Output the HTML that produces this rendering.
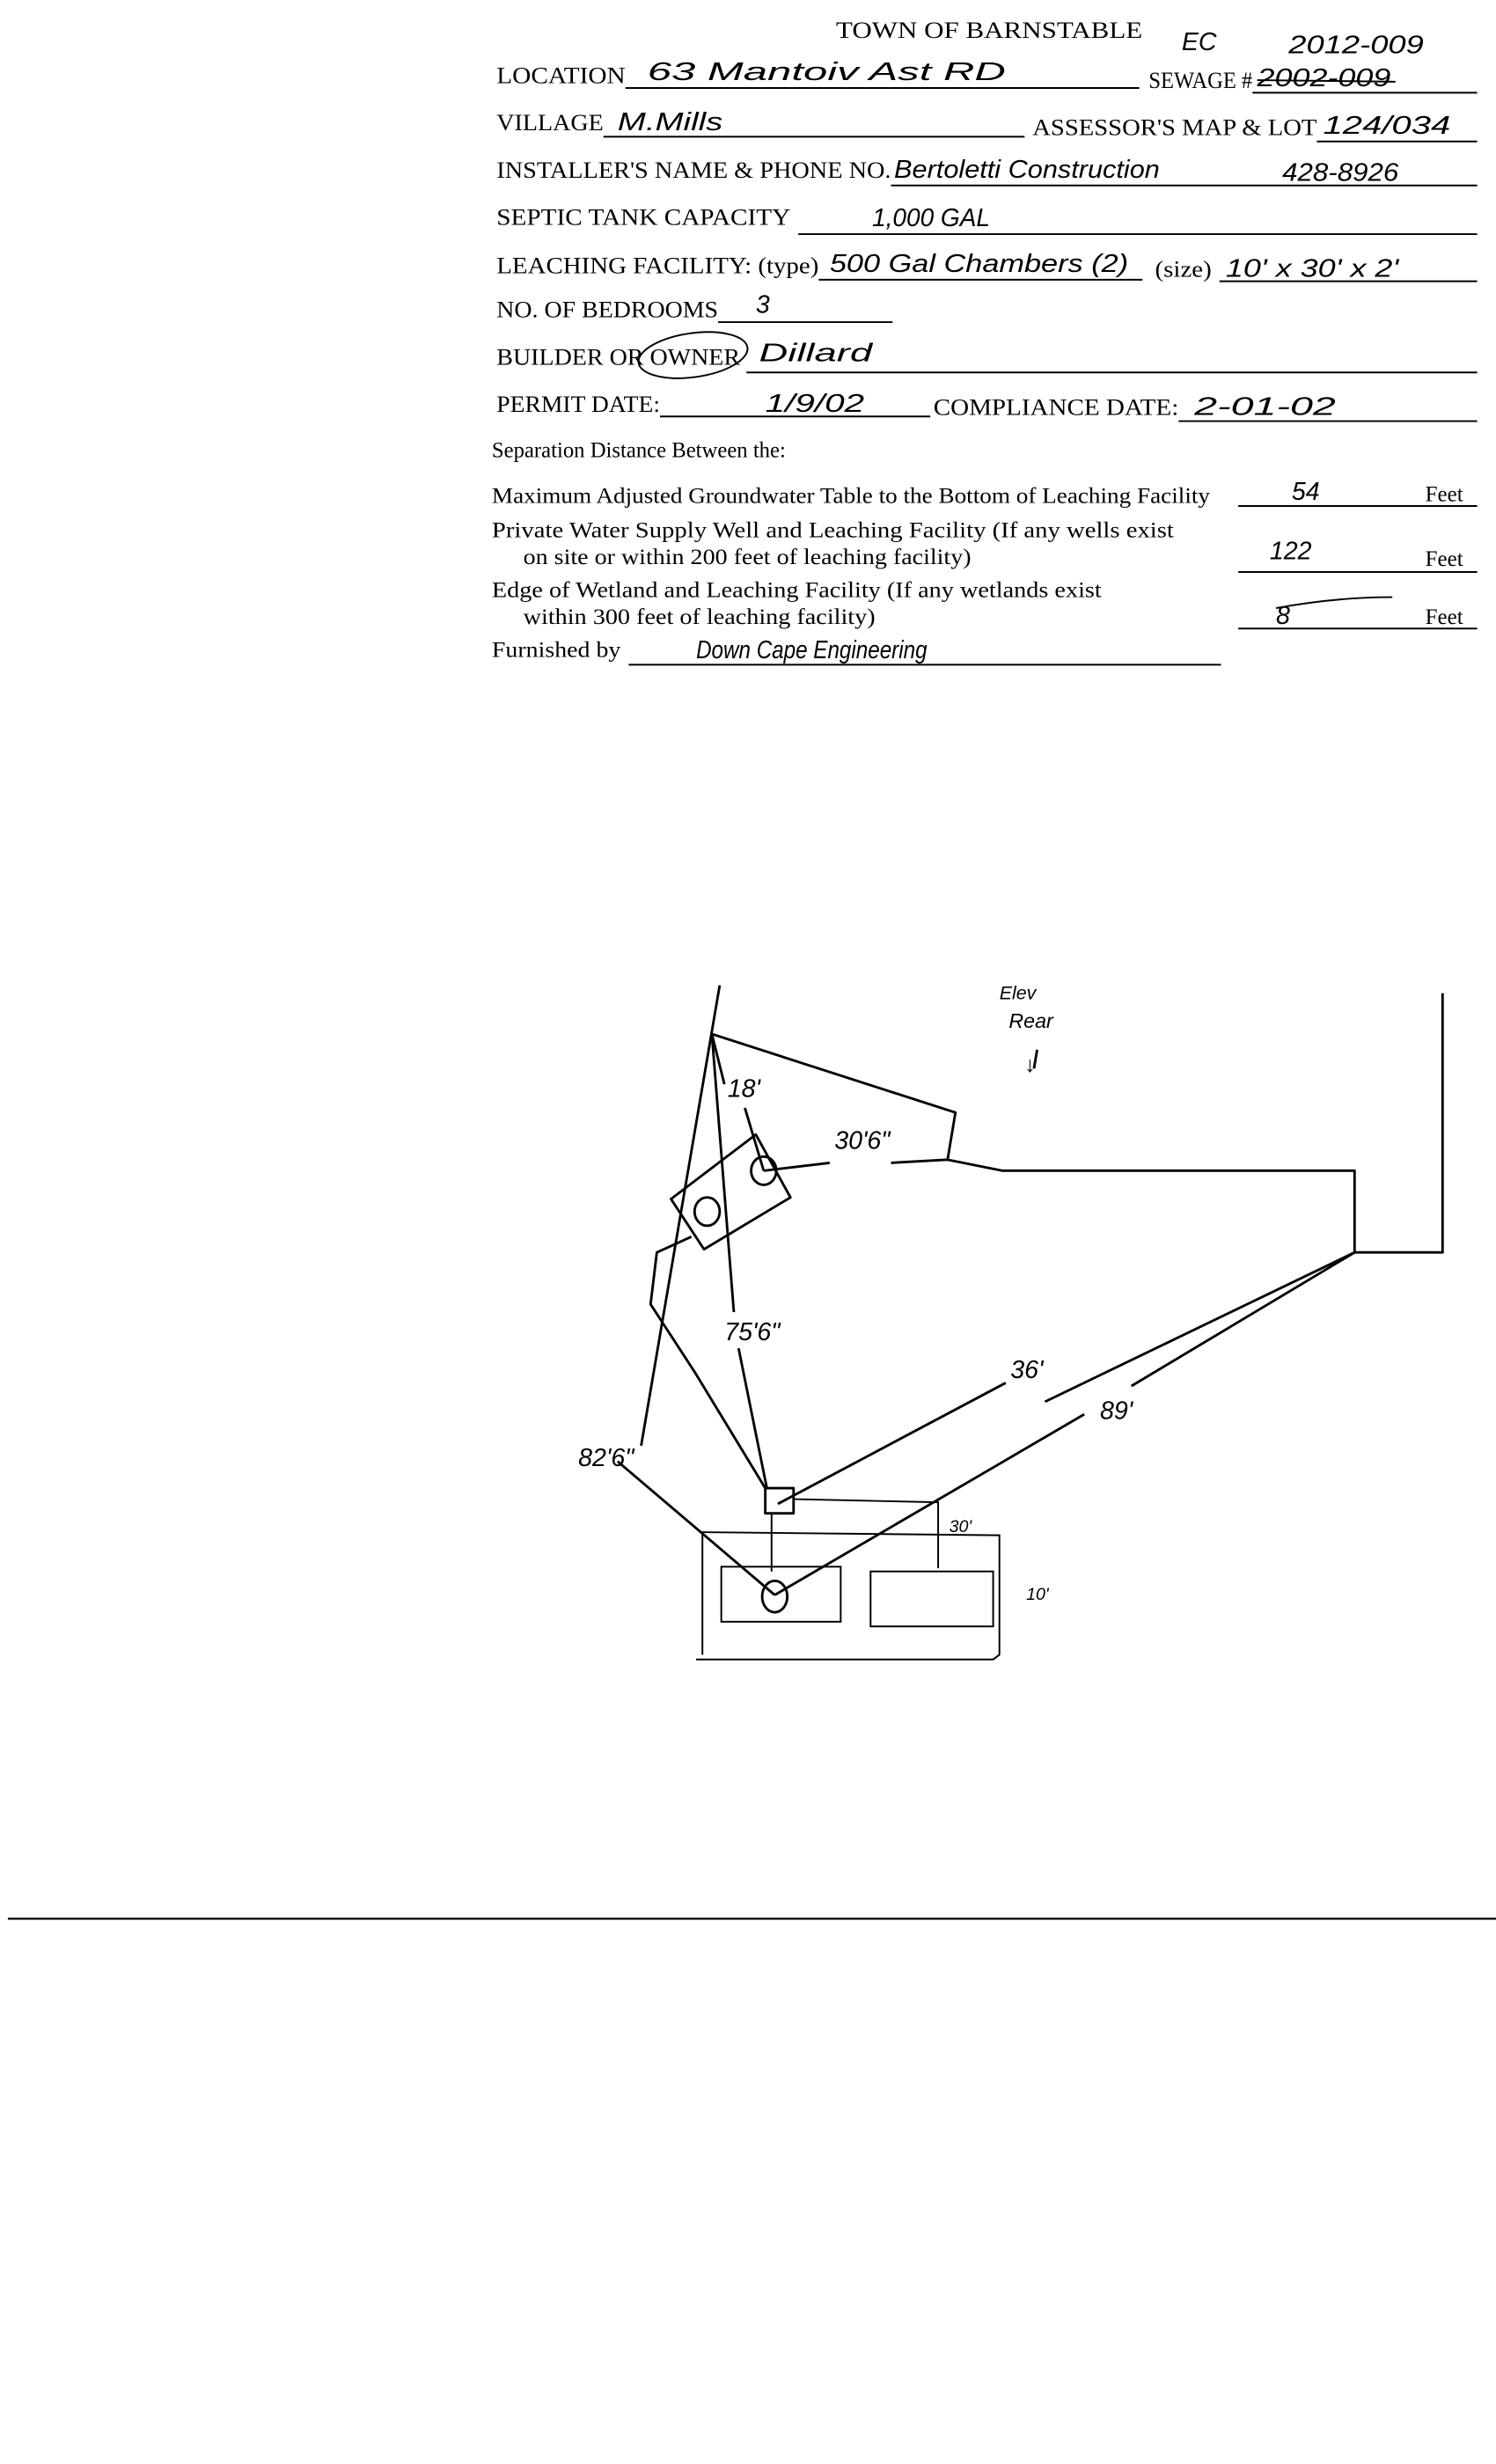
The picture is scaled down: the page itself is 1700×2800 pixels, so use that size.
<!DOCTYPE html>
<html><head><meta charset="utf-8"><style>
html,body{margin:0;padding:0;background:#fff;}
svg{display:block;}
.t{font-family:"Liberation Serif",serif;font-size:15px;fill:#000;}
.s{font-family:"Liberation Serif",serif;font-size:14px;fill:#000;}
.h{font-family:"Liberation Sans",sans-serif;font-style:italic;font-size:16px;fill:#000;}
.l{stroke:#000;stroke-width:1.1;fill:none;}
.d{stroke:#000;stroke-width:1.6;fill:none;stroke-linejoin:round;}
</style></head><body>
<svg width="1700" height="2800" viewBox="0 0 952 1568" preserveAspectRatio="none" xmlns="http://www.w3.org/2000/svg">
<rect width="952" height="1568" fill="#fff"/>
<text class="t" x="532" y="24" textLength="195" lengthAdjust="spacingAndGlyphs">TOWN OF BARNSTABLE</text>
<text class="h" x="752" y="32" font-size="13">EC</text>
<text class="h" x="820" y="34" textLength="86" lengthAdjust="spacingAndGlyphs">2012-009</text>

<text class="t" x="316" y="53" textLength="82" lengthAdjust="spacingAndGlyphs">LOCATION</text>
<line class="l" x1="398" y1="56" x2="725" y2="56"/>
<text class="h" x="412" y="51" textLength="228" lengthAdjust="spacingAndGlyphs">63 Mantoiv Ast   RD</text>
<text class="t" x="731" y="56" textLength="66" lengthAdjust="spacingAndGlyphs">SEWAGE #</text>
<line class="l" x1="797" y1="59" x2="940" y2="59"/>
<text class="h" x="800" y="55" textLength="85" lengthAdjust="spacingAndGlyphs">2002-009</text>
<line class="l" x1="800" y1="51" x2="888" y2="52"/>

<text class="t" x="316" y="83" textLength="68" lengthAdjust="spacingAndGlyphs">VILLAGE</text>
<line class="l" x1="384" y1="87" x2="652" y2="87"/>
<text class="h" x="393" y="83" textLength="67" lengthAdjust="spacingAndGlyphs">M.Mills</text>
<text class="t" x="657" y="86" textLength="181" lengthAdjust="spacingAndGlyphs">ASSESSOR'S MAP &amp; LOT</text>
<line class="l" x1="838" y1="90" x2="940" y2="90"/>
<text class="h" x="842" y="85" textLength="81" lengthAdjust="spacingAndGlyphs">124/034</text>

<text class="t" x="316" y="113" textLength="251" lengthAdjust="spacingAndGlyphs">INSTALLER'S NAME &amp; PHONE NO.</text>
<line class="l" x1="567" y1="118" x2="940" y2="118"/>
<text class="h" x="569" y="113" textLength="169" lengthAdjust="spacingAndGlyphs" font-size="13">Bertoletti  Construction</text>
<text class="h" x="816" y="115" textLength="74" lengthAdjust="spacingAndGlyphs" font-size="13">428-8926</text>

<text class="t" x="316" y="143" textLength="187" lengthAdjust="spacingAndGlyphs">SEPTIC TANK CAPACITY</text>
<line class="l" x1="508" y1="149" x2="940" y2="149"/>
<text class="h" x="555" y="144" textLength="75" lengthAdjust="spacingAndGlyphs">1,000 GAL</text>

<text class="t" x="316" y="174" textLength="205" lengthAdjust="spacingAndGlyphs">LEACHING FACILITY: (type)</text>
<line class="l" x1="521" y1="178" x2="727" y2="178"/>
<text class="h" x="528" y="173" textLength="190" lengthAdjust="spacingAndGlyphs" font-size="14">500 Gal Chambers (2)</text>
<text class="t" x="735" y="176" textLength="36" lengthAdjust="spacingAndGlyphs">(size)</text>
<line class="l" x1="776" y1="179" x2="940" y2="179"/>
<text class="h" x="780" y="176" textLength="110" lengthAdjust="spacingAndGlyphs">10' x 30' x 2'</text>

<text class="t" x="316" y="202" textLength="141" lengthAdjust="spacingAndGlyphs">NO. OF BEDROOMS</text>
<line class="l" x1="457" y1="205" x2="568" y2="205"/>
<text class="h" x="481" y="199" font-size="18">3</text>

<text class="t" x="316" y="232" textLength="155" lengthAdjust="spacingAndGlyphs">BUILDER OR OWNER</text>
<ellipse cx="441" cy="226" rx="35" ry="14" class="l" transform="rotate(-8 441 226)"/>
<line class="l" x1="475" y1="237" x2="940" y2="237"/>
<text class="h" x="483" y="230" textLength="72" lengthAdjust="spacingAndGlyphs">Dillard</text>

<text class="t" x="316" y="262" textLength="104" lengthAdjust="spacingAndGlyphs">PERMIT DATE:</text>
<line class="l" x1="420" y1="265" x2="592" y2="265"/>
<text class="h" x="487" y="262" textLength="63" lengthAdjust="spacingAndGlyphs" font-size="20">1/9/02</text>
<text class="t" x="594" y="264" textLength="156" lengthAdjust="spacingAndGlyphs">COMPLIANCE DATE:</text>
<line class="l" x1="750" y1="268" x2="940" y2="268"/>
<text class="h" x="760" y="264" textLength="90" lengthAdjust="spacingAndGlyphs" font-size="18">2-01-02</text>

<text class="s" x="313" y="291" textLength="187" lengthAdjust="spacingAndGlyphs">Separation Distance Between the:</text>
<text class="s" x="313" y="320" textLength="457" lengthAdjust="spacingAndGlyphs">Maximum Adjusted Groundwater Table to the Bottom of Leaching Facility</text>
<line class="l" x1="788" y1="322" x2="940" y2="322"/>
<text class="h" x="822" y="318" font-size="18">54</text>
<text class="s" x="907" y="319">Feet</text>
<text class="s" x="313" y="342" textLength="434" lengthAdjust="spacingAndGlyphs">Private Water Supply Well and Leaching Facility  (If any wells exist</text>
<text class="s" x="333" y="359" textLength="285" lengthAdjust="spacingAndGlyphs">on site or within 200 feet of leaching facility)</text>
<line class="l" x1="788" y1="364" x2="940" y2="364"/>
<text class="h" x="808" y="356" font-size="13">122</text>
<text class="s" x="907" y="360">Feet</text>
<text class="s" x="313" y="380" textLength="388" lengthAdjust="spacingAndGlyphs">Edge of Wetland and Leaching Facility (If any wetlands exist</text>
<text class="s" x="333" y="397" textLength="224" lengthAdjust="spacingAndGlyphs">within 300 feet of leaching facility)</text>
<line class="l" x1="788" y1="400" x2="940" y2="400"/>
<text class="h" x="812" y="397" font-size="14">8</text>
<path class="l" d="M812 387 Q850 380 886 380"/>
<text class="s" x="907" y="397">Feet</text>
<text class="s" x="313" y="418" textLength="82" lengthAdjust="spacingAndGlyphs">Furnished by</text>
<line class="l" x1="400" y1="423" x2="777" y2="423"/>
<text class="h" x="443" y="419" textLength="147" lengthAdjust="spacingAndGlyphs" font-size="12">Down Cape Engineering</text>

<g class="d">
<line x1="458" y1="627" x2="408" y2="920"/>
<polyline points="453,658 608,708 603,738 638,745 862,745 862,797 918,797 918,632"/>
<line x1="567" y1="740" x2="603" y2="738"/>
<line x1="453" y1="658" x2="467" y2="835"/>
<line x1="470" y1="858" x2="488" y2="947"/>
<line x1="453" y1="658" x2="461" y2="690"/>
<line x1="474" y1="705" x2="486" y2="745"/>
<polygon points="427,763 481,722 503,762 448,795"/>
<line x1="486" y1="745" x2="528" y2="740"/>
<polyline points="440,787 418,797 414,830 442,873 487,947"/>
<rect x="487" y="947" width="18" height="16"/>
<line x1="495" y1="957" x2="640" y2="880"/>
<line x1="665" y1="892" x2="862" y2="797"/>
<line x1="493" y1="1015" x2="690" y2="900"/>
<line x1="720" y1="882" x2="862" y2="797"/>
<line x1="393" y1="930" x2="493" y2="1015"/>
<polyline points="658,680 660,668"/>
</g>
<ellipse cx="486" cy="745" rx="8" ry="9" class="d"/>
<ellipse cx="450" cy="771" rx="8" ry="9" class="d"/>
<g class="l">
<polyline points="505,954 597,956 597,998"/>
<line x1="491" y1="963" x2="491" y2="1000"/>
<polyline points="445,975 636,977 636,1053 632,1056 443,1056"/>
<line x1="447" y1="975" x2="447" y2="1053"/>
<rect x="459" y="997" width="76" height="35"/>
<rect x="554" y="1000" width="78" height="35"/>
</g>
<ellipse cx="493" cy="1016" rx="8" ry="10" class="d"/>
<g class="h" font-size="13">
<text x="463" y="698">18'</text>
<text x="531" y="731">30'6"</text>
<text x="461" y="853">75'6"</text>
<text x="643" y="877">36'</text>
<text x="700" y="903">89'</text>
<text x="368" y="933">82'6"</text>
<text x="604" y="975" font-size="11">30'</text>
<text x="653" y="1018" font-size="11">10'</text>
<text x="636" y="636" font-size="12">Elev</text>
<text x="642" y="654" font-size="13">Rear</text>
<text x="652" y="682" font-size="14">↓</text>
</g>
<line x1="5" y1="1221" x2="952" y2="1221" stroke="#000" stroke-width="1.3"/>
</svg>
</body></html>
